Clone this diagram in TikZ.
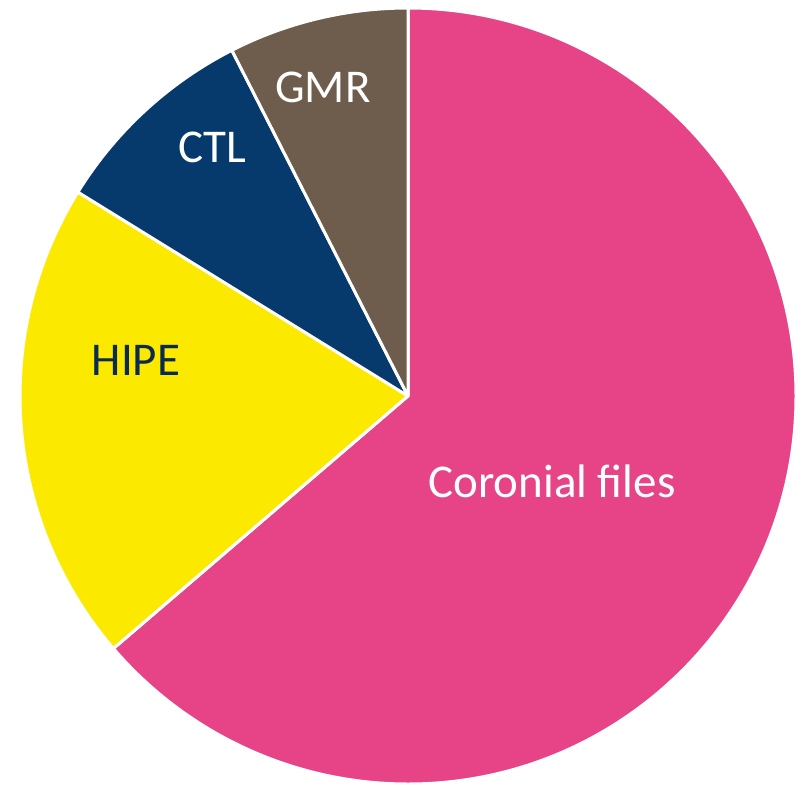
\documentclass[tikz,border=0pt]{standalone}
\usepackage{fontspec}
\setmainfont{Carlito}
\definecolor{coronial}{HTML}{E64486}
\definecolor{hipe}{HTML}{FCE900}
\definecolor{ctl}{HTML}{073A6C}
\definecolor{gmr}{HTML}{6E5D4C}
\definecolor{navytext}{HTML}{0B2A50}
\begin{document}
\begin{tikzpicture}[x=1pt,y=-1pt,
  slice/.style={draw=white,line width=3pt,line join=round},
  lbl/.style={anchor=base,inner sep=0pt,font=\fontsize{47}{56}\selectfont}]
\useasboundingbox (0,0) rectangle (805,784);
\coordinate (c) at (408,396);
\def\r{388}
% sectors, angles measured counter-clockwise from +x on screen
\fill[coronial,slice] (c) -- ++(-90:\r) arc[start angle=-90,end angle=139.4,radius=\r] -- cycle;
\fill[hipe,slice] (c) -- ++(139.4:\r) arc[start angle=139.4,end angle=211.7,radius=\r] -- cycle;
\fill[ctl,slice] (c) -- ++(211.7:\r) arc[start angle=211.7,end angle=243,radius=\r] -- cycle;
\fill[gmr,slice] (c) -- ++(243:\r) arc[start angle=243,end angle=270,radius=\r] -- cycle;
% labels
\node[lbl,text=white] (coronial) at (552,497) {Coronial files};
\node[lbl,text=navytext] (hipe) at (136,375) {HIPE};
\node[lbl,text=white] (ctl) at (212,162) {CTL};
\node[lbl,text=white] (gmr) at (323,102) {GMR};
\end{tikzpicture}
\end{document}
